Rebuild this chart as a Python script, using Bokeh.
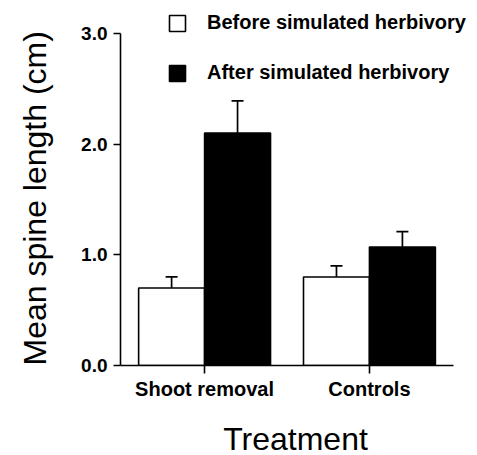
from bokeh.plotting import figure
from bokeh.models import (ColumnDataSource, Whisker, TeeHead, Legend, LegendItem,
                          FixedTicker, Range1d)
from bokeh.embed import file_html
from bokeh.resources import INLINE

# ---- data ----
categories = ["Shoot removal", "Controls"]
before = [0.70, 0.80]
before_err = [0.10, 0.10]
after = [2.10, 1.07]
after_err = [0.29, 0.14]
y_ticks = [0.0, 1.0, 2.0, 3.0]
series_labels = ["Before simulated herbivory", "After simulated herbivory"]
y_title = "Mean spine length (cm)"
x_title = "Treatment"

FONT = "Liberation Sans"
BAR_W = 0.40
OFF = 0.20

pos = [i + 1 for i in range(len(categories))]

src_b = ColumnDataSource(dict(
    x=[p - OFF for p in pos], top=before,
    upper=[v + e for v, e in zip(before, before_err)],
    lower=[v - e for v, e in zip(before, before_err)]))
src_a = ColumnDataSource(dict(
    x=[p + OFF for p in pos], top=after,
    upper=[v + e for v, e in zip(after, after_err)],
    lower=after))

p = figure(frame_width=350, frame_height=361, output_backend="svg",
           toolbar_location=None,
           x_range=Range1d(0.49, 2.613), y_range=Range1d(0, 3.261),
           min_border_left=120, min_border_right=7, min_border_top=4,
           min_border_bottom=60)

p.outline_line_color = None
p.xgrid.visible = False
p.ygrid.visible = False
p.background_fill_color = "white"
p.border_fill_color = "white"

wb = Whisker(source=src_b, base="x", upper="upper", lower="lower",
             line_color="black", line_width=1.7,
             upper_head=TeeHead(size=12, line_color="black", line_width=1.7),
             lower_head=TeeHead(size=12, line_color="black", line_width=1.7))
wa = Whisker(source=src_a, base="x", upper="upper", lower="lower",
             line_color="black", line_width=1.7,
             upper_head=TeeHead(size=12, line_color="black", line_width=1.7),
             lower_head=None)

rb = p.vbar(x="x", top="top", width=BAR_W, source=src_b,
            fill_color="white", line_color="black", line_width=1.6)
ra = p.vbar(x="x", top="top", width=BAR_W, source=src_a,
            fill_color="black", line_color="black", line_width=1.6)
p.add_layout(wb)
p.add_layout(wa)

# x axis
xa = p.xaxis[0]
xa.ticker = FixedTicker(ticks=pos)
xa.bounds = (0.49, 2.51)
xa.major_label_overrides = {pp: c for pp, c in zip(pos, categories)}
xa.minor_tick_line_color = None
xa.major_tick_in = 0
xa.major_tick_out = 8
xa.axis_line_width = 1.6
xa.major_tick_line_width = 1.6
xa.major_label_standoff = 4
xa.major_label_text_font = FONT
xa.major_label_text_font_style = "bold"
xa.major_label_text_font_size = "20px"
xa.major_label_text_color = "black"
xa.axis_label = x_title
xa.axis_label_text_font = FONT
xa.axis_label_text_font_style = "normal"
xa.axis_label_text_font_size = "32px"
xa.axis_label_text_color = "black"
xa.axis_label_standoff = 18

# y axis (label centred on the 0-3 axis line, as in the reference: the
# trailing no-break spaces shift the visible text down from the frame centre)
ya = p.yaxis[0]
ya.ticker = FixedTicker(ticks=y_ticks)
ya.major_label_overrides = {t: f"{t:.1f}" for t in y_ticks}
ya.bounds = (0, 3)
ya.minor_tick_line_color = None
ya.major_tick_in = 0
ya.major_tick_out = 7
ya.axis_line_width = 1.6
ya.major_tick_line_width = 1.6
ya.major_label_standoff = 6
ya.major_label_text_font = FONT
ya.major_label_text_font_style = "bold"
ya.major_label_text_font_size = "19px"
ya.major_label_text_color = "black"
ya.axis_label = y_title + "\u00a0" * 3
ya.axis_label_text_font = FONT
ya.axis_label_text_font_style = "normal"
ya.axis_label_text_font_size = "32px"
ya.axis_label_text_color = "black"
ya.axis_label_standoff = 25

legend = Legend(items=[LegendItem(label=series_labels[0], renderers=[rb]),
                       LegendItem(label=series_labels[1], renderers=[ra])],
                location=(47, 281), orientation="vertical",
                glyph_width=20, glyph_height=20, label_standoff=20,
                spacing=27, padding=0, margin=0,
                border_line_color=None, background_fill_alpha=0,
                label_text_font=FONT, label_text_font_style="bold",
                label_text_font_size="20px", label_text_color="black")
p.add_layout(legend, "center")

open("out.html", "w").write(file_html(p, INLINE))
